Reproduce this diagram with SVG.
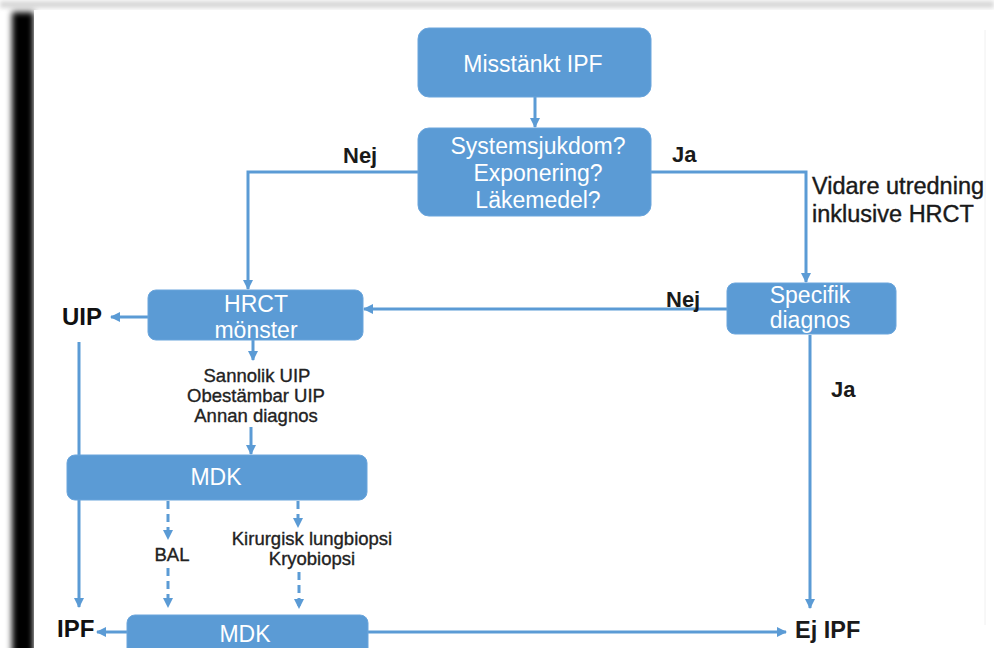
<svg xmlns="http://www.w3.org/2000/svg" width="994" height="648" viewBox="0 0 994 648">
<style>
.box{fill:#5b9bd5;stroke:#6aa5dc;stroke-width:1}
.bt{font-family:"Liberation Sans",Arial,sans-serif;font-size:23px;fill:#ffffff;text-anchor:middle}
.lbl{font-family:"Liberation Sans",Arial,sans-serif;font-weight:bold;font-size:22px;fill:#1a1a1a}
.big{font-family:"Liberation Sans",Arial,sans-serif;font-weight:bold;font-size:24px;fill:#111111}
.side{font-family:"Liberation Sans",Arial,sans-serif;font-size:23.5px;fill:#1a1a1a;stroke:#1a1a1a;stroke-width:0.4}
.small{font-family:"Liberation Sans",Arial,sans-serif;font-size:18.5px;fill:#222222;stroke:#222222;stroke-width:0.35;text-anchor:middle}
.ln{fill:none;stroke:#5b9bd5;stroke-width:3}
.dash{fill:none;stroke:#5b9bd5;stroke-width:3;stroke-dasharray:8,5}
</style>
<defs>
<marker id="ah" viewBox="0 0 10 10" refX="9" refY="5" markerWidth="10" markerHeight="10" markerUnits="userSpaceOnUse" orient="auto">
<path d="M0,0 L10,5 L0,10 z" fill="#5b9bd5"/>
</marker>
<filter id="blur" x="-50%" y="-50%" width="200%" height="200%"><feGaussianBlur stdDeviation="3"/></filter>
<filter id="blur2" x="-10%" y="-100%" width="120%" height="300%"><feGaussianBlur stdDeviation="2"/></filter>
<clipPath id="page"><rect x="0" y="0" width="994" height="648"/></clipPath>
</defs>
<g id="frame">
<rect x="0" y="0" width="994" height="648" fill="#ffffff"/>
<rect x="0" y="1" width="994" height="7" fill="#d8d8d8" filter="url(#blur2)"/>
<rect x="12" y="12" width="22" height="660" fill="#000000" filter="url(#blur)"/>
<rect x="34" y="10" width="960" height="640" fill="#ffffff"/>
<line x1="985" y1="30" x2="985" y2="625" stroke="#f0f0f0" stroke-width="1"/>
</g>
<g id="connectors">
<path class="ln" d="M535,97 V127" marker-end="url(#ah)"/>
<path class="ln" d="M418,172 H248 V289" marker-end="url(#ah)"/>
<path class="ln" d="M651,172 H806 V282" marker-end="url(#ah)"/>
<path class="ln" d="M727,309 H364" marker-end="url(#ah)"/>
<path class="ln" d="M148,317 H111" marker-end="url(#ah)"/>
<path class="ln" d="M79,342 V607" marker-end="url(#ah)"/>
<path class="ln" d="M253,340 V360" marker-end="url(#ah)"/>
<path class="ln" d="M251,427 V454" marker-end="url(#ah)"/>
<path class="dash" d="M168,501 V539" marker-end="url(#ah)"/>
<path class="dash" d="M168,568 V607" marker-end="url(#ah)"/>
<path class="dash" d="M298,501 V527" marker-end="url(#ah)"/>
<path class="dash" d="M299,572 V608" marker-end="url(#ah)"/>
<path class="ln" d="M127,632 H97" marker-end="url(#ah)"/>
<path class="ln" d="M368,632 H786" marker-end="url(#ah)"/>
<path class="ln" d="M810,335 V608" marker-end="url(#ah)"/>
</g>
<g id="n-misstankt">
<rect class="box" x="418" y="28" width="233" height="69" rx="11"/>
<text class="bt" x="533" y="72">Misstänkt IPF</text>
</g>
<g id="n-system">
<rect class="box" x="418" y="128" width="233" height="88" rx="11"/>
<text class="bt" x="538" y="154">Systemsjukdom?</text>
<text class="bt" x="538" y="181">Exponering?</text>
<text class="bt" x="538" y="208">Läkemedel?</text>
</g>
<g id="n-hrct">
<rect class="box" x="148" y="290" width="215" height="50" rx="8"/>
<text class="bt" x="256" y="312">HRCT</text>
<text class="bt" x="256" y="338">mönster</text>
</g>
<g id="n-specifik">
<rect class="box" x="727" y="283" width="169" height="51" rx="8"/>
<text class="bt" x="810" y="303">Specifik</text>
<text class="bt" x="810" y="328">diagnos</text>
</g>
<g id="n-mdk1">
<rect class="box" x="67" y="455" width="300" height="45" rx="8"/>
<text class="bt" x="216" y="485">MDK</text>
</g>
<g id="n-mdk2" clip-path="url(#page)">
<rect class="box" x="127" y="615" width="241" height="50" rx="8"/>
<text class="bt" x="245" y="642">MDK</text>
</g>
<g id="labels">
<text class="lbl" x="343" y="163">Nej</text>
<text class="lbl" x="672" y="162">Ja</text>
<text class="side" x="812" y="194">Vidare utredning</text>
<text class="side" x="812" y="222">inklusive HRCT</text>
<text class="lbl" x="666" y="307">Nej</text>
<text class="lbl" x="831" y="397">Ja</text>
<text class="big" x="62" y="325">UIP</text>
<text class="big" x="57" y="637">IPF</text>
<text class="lbl" x="795" y="638" style="font-size:23.5px">Ej IPF</text>
<text class="small" x="257" y="382">Sannolik UIP</text>
<text class="small" x="256" y="402">Obestämbar UIP</text>
<text class="small" x="256" y="422">Annan diagnos</text>
<text class="small" x="172" y="561">BAL</text>
<text class="small" x="312" y="545">Kirurgisk lungbiopsi</text>
<text class="small" x="312" y="565">Kryobiopsi</text>
</g>
</svg>
